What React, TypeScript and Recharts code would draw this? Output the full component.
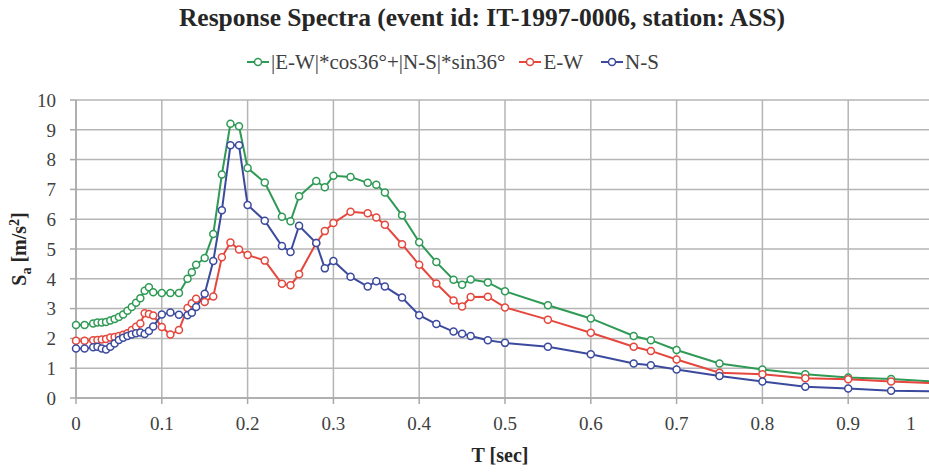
import React from "react";
import { LineChart, Line, XAxis, YAxis, CartesianGrid } from "recharts";

const periods = [
  0, 0.01, 0.02, 0.025, 0.03, 0.035, 0.04, 0.045, 0.05, 0.055,
  0.06, 0.065, 0.07, 0.075, 0.08, 0.085, 0.09, 0.1, 0.11, 0.12,
  0.13, 0.135, 0.14, 0.15, 0.16, 0.17, 0.18, 0.19, 0.2, 0.22,
  0.24, 0.25, 0.26, 0.28, 0.29, 0.3, 0.32, 0.34, 0.35, 0.36,
  0.38, 0.4, 0.42, 0.44, 0.45, 0.46, 0.48, 0.5, 0.55, 0.6,
  0.65, 0.67, 0.7, 0.75, 0.8, 0.85, 0.9, 0.95, 1.0,
];

const combined = [
  2.45, 2.45, 2.5, 2.53, 2.53, 2.55, 2.6, 2.65, 2.72, 2.8,
  2.93, 3.05, 3.2, 3.35, 3.6, 3.72, 3.55, 3.52, 3.52, 3.52,
  4.0, 4.22, 4.47, 4.7, 5.5, 7.5, 9.2, 9.12, 7.72, 7.23,
  6.08, 5.93, 6.77, 7.28, 7.07, 7.46, 7.42, 7.22, 7.16, 6.9,
  6.13, 5.23, 4.56, 3.97, 3.8, 3.98, 3.88, 3.58, 3.11, 2.67,
  2.08, 1.94, 1.61, 1.16, 0.96, 0.8, 0.69, 0.64, 0.55,
];

const eastWest = [
  1.92, 1.92, 1.94, 1.95, 1.96, 1.98, 2.03, 2.05, 2.08, 2.12,
  2.17, 2.28, 2.39, 2.5, 2.84, 2.82, 2.77, 2.38, 2.13, 2.28,
  3.02, 3.18, 3.33, 3.22, 3.41, 4.72, 5.22, 4.98, 4.8, 4.61,
  3.83, 3.78, 4.15, 5.2, 5.6, 5.87, 6.25, 6.2, 6.06, 5.81,
  5.16, 4.47, 3.84, 3.27, 3.07, 3.39, 3.4, 3.04, 2.63, 2.19,
  1.72, 1.58, 1.29, 0.85, 0.8, 0.66, 0.63, 0.55, 0.5,
];

const northSouth = [
  1.66, 1.66, 1.7, 1.72, 1.66, 1.63, 1.72, 1.83, 1.95, 2.02,
  2.08, 2.13, 2.17, 2.2, 2.15, 2.25, 2.4, 2.8, 2.87, 2.79,
  2.78, 2.86, 3.05, 3.5, 4.6, 6.3, 8.48, 8.48, 6.48, 5.95,
  5.1, 4.9, 5.78, 5.2, 4.35, 4.6, 4.07, 3.74, 3.92, 3.74,
  3.37, 2.78, 2.48, 2.23, 2.16, 2.08, 1.94, 1.85, 1.72, 1.47,
  1.16, 1.1, 0.96, 0.74, 0.55, 0.38, 0.32, 0.24, 0.22,
];

const xTicks = [0, 0.1, 0.2, 0.3, 0.4, 0.5, 0.6, 0.7, 0.8, 0.9, 1];
const yTicks = [0, 1, 2, 3, 4, 5, 6, 7, 8, 9, 10];

const seriesNames = ["|E-W|*cos36°+|N-S|*sin36°", "E-W", "N-S"];
const GREEN = "#2f9a55";
const RED = "#e5473d";
const BLUE = "#3c4a9e";
const FONT = "'Liberation Serif', serif";

const data = periods.map((t, i) => ({
  T: t,
  comb: combined[i],
  ew: eastWest[i],
  ns: northSouth[i],
}));

const XTick = (props: any) => {
  const { x, y, payload } = props;
  const shift = payload.value === 1 ? -23 : 0;
  return (
    <text x={x + shift} y={y + 24} textAnchor="middle" fontSize={19} fill="#404040" fontFamily={FONT}>
      {payload.value}
    </text>
  );
};

const LegendItem = ({ color, label, gap }: { color: string; label: string; gap: number }) => (
  <div style={{ display: "flex", alignItems: "center", marginRight: gap }}>
    <svg width={22} height={12} style={{ marginRight: 2 }}>
      <line x1={0} y1={6} x2={22} y2={6} stroke={color} strokeWidth={2} />
      <circle cx={11} cy={6} r={3.5} fill="#fff" stroke={color} strokeWidth={1.5} />
    </svg>
    <span>{label}</span>
  </div>
);

export default function App() {
  return (
    <div
      style={{
        position: "fixed",
        left: 0,
        top: 0,
        width: 929,
        height: 474,
        overflow: "hidden",
        background: "#fff",
        fontFamily: FONT,
      }}
    >
      <div
        style={{
          position: "absolute",
          left: 0,
          top: 3,
          width: 964,
          textAlign: "center",
          fontSize: 25.5,
          fontWeight: "bold",
          color: "#262626",
          lineHeight: "30px",
        }}
      >
        Response Spectra (event id: IT-1997-0006, station: ASS)
      </div>
      <div
        style={{
          position: "absolute",
          left: 247,
          top: 50,
          display: "flex",
          fontSize: 21,
          color: "#404040",
          lineHeight: "24px",
        }}
      >
        <LegendItem color={GREEN} label={seriesNames[0]} gap={14} />
        <LegendItem color={RED} label={seriesNames[1]} gap={18} />
        <LegendItem color={BLUE} label={seriesNames[2]} gap={0} />
      </div>
      <div
        style={{
          position: "absolute",
          left: 21,
          top: 249,
          transform: "translate(-50%, -50%) rotate(-90deg)",
          fontSize: 20,
          fontWeight: "bold",
          color: "#262626",
          whiteSpace: "nowrap",
        }}
      >
        S<sub style={{ fontSize: 14 }}>a</sub> [m/s<sup style={{ fontSize: 14 }}>2</sup>]
      </div>
      <div style={{ position: "absolute", left: 0, top: 0 }}>
        <LineChart
          width={940}
          height={474}
          data={data}
          margin={{ top: 100, right: 6, bottom: 12, left: 6 }}
        >
          <CartesianGrid stroke="#b5b5b5" strokeWidth={1.5} />
          <XAxis
            type="number"
            dataKey="T"
            domain={[0, 1]}
            ticks={xTicks}
            tick={<XTick />}
            tickSize={6}
            stroke="#a8a8a8"
            strokeWidth={1.5}
            height={64}
            label={{
              value: "T [sec]",
              position: "insideBottom",
              offset: 0,
              fontSize: 20,
              fontWeight: "bold",
              fill: "#262626",
              fontFamily: FONT,
              dx: -5,
            }}
          />
          <YAxis
            type="number"
            domain={[0, 10]}
            ticks={yTicks}
            width={70}
            tickSize={6}
            tickMargin={14}
            stroke="#a8a8a8"
            strokeWidth={1.5}
            tick={{ fontSize: 19, fill: "#404040", fontFamily: FONT }}
          />
          <Line
            dataKey="comb"
            name={seriesNames[0]}
            stroke={GREEN}
            strokeWidth={2}
            dot={{ r: 3.5, fill: "#fff", stroke: GREEN, strokeWidth: 1.5 }}
            isAnimationActive={false}
          />
          <Line
            dataKey="ew"
            name={seriesNames[1]}
            stroke={RED}
            strokeWidth={2}
            dot={{ r: 3.5, fill: "#fff", stroke: RED, strokeWidth: 1.5 }}
            isAnimationActive={false}
          />
          <Line
            dataKey="ns"
            name={seriesNames[2]}
            stroke={BLUE}
            strokeWidth={2}
            dot={{ r: 3.5, fill: "#fff", stroke: BLUE, strokeWidth: 1.5 }}
            isAnimationActive={false}
          />
        </LineChart>
      </div>
    </div>
  );
}
